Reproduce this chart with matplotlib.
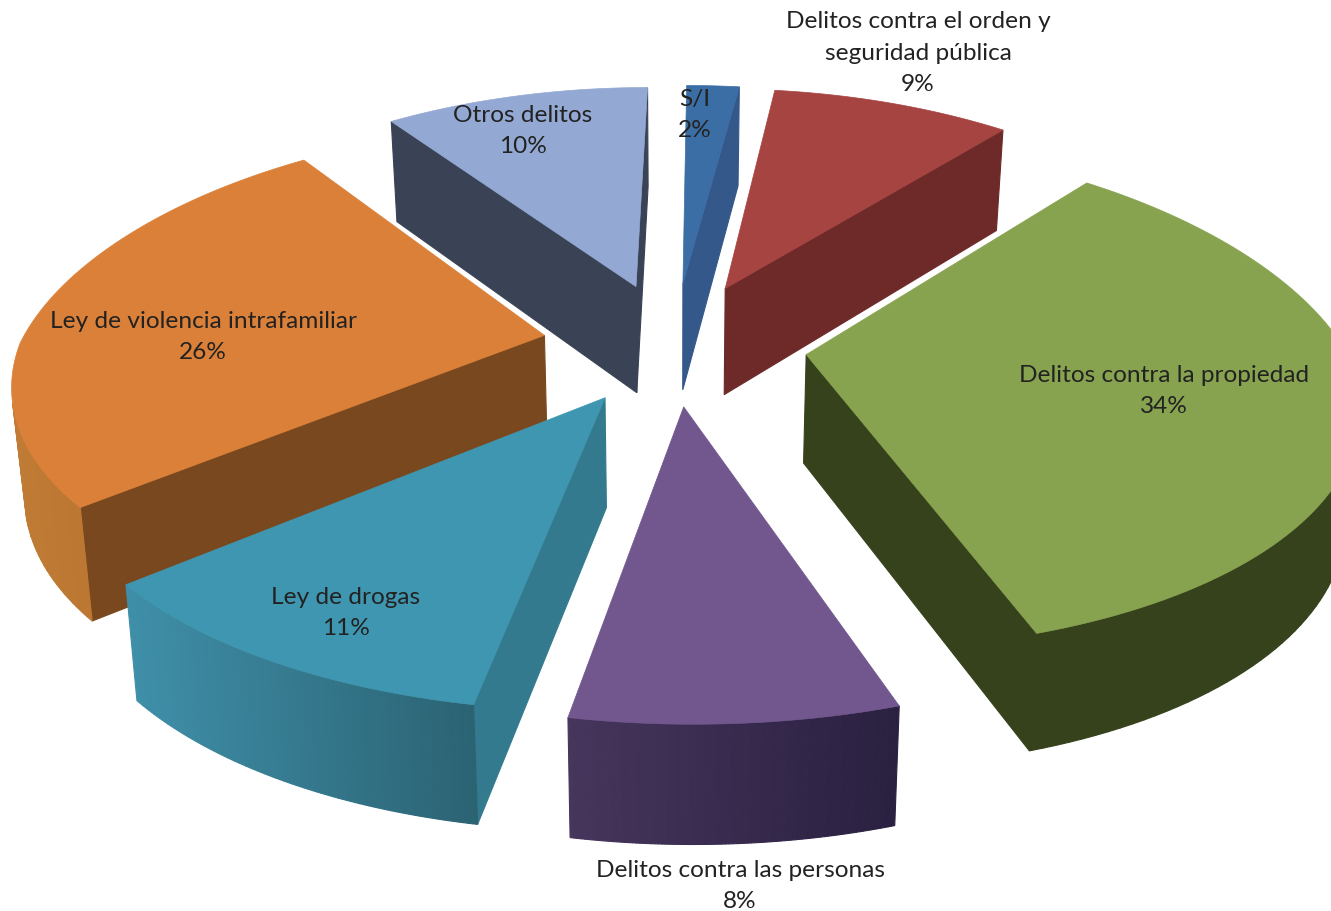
import numpy as np
import matplotlib
matplotlib.use('Agg')
import matplotlib.pyplot as plt
from matplotlib.colors import to_rgb

# datos
categorias = ['S/I', 'Delitos contra el orden y\nseguridad pública', 'Delitos contra la propiedad',
              'Delitos contra las personas', 'Ley de drogas', 'Ley de violencia intrafamiliar', 'Otros delitos']
valores = [2, 9, 34, 8, 11, 26, 10]

# estilo de cada sector: tapa, cara de corte, lateral exterior (izq, der)
col_tapa = ['#3b6ea5', '#a64442', '#88a34f', '#71578e', '#3f96b0', '#db8038', '#93a8d2']
col_corte = ['#35588a', '#6d2a29', '#36421c', '#3a2c4c', '#347a8e', '#7a481f', '#3a4256']
col_arco_izq = ['#2c5a8c', '#6d2a29', '#36421c', '#46355c', '#3f8fa9', '#c07c35', '#3a4256']
col_arco_der = ['#2c5a8c', '#6d2a29', '#36421c', '#2a2040', '#2b6373', '#ad6828', '#3a4256']

# posicion de las etiquetas en pixeles
pos_etiquetas = [(695, 115), (918, 53), (1164, 391), (740, 886), (346, 613), (203, 337), (523, 131)]

# parametros de la proyeccion
cx, cy = 675, 344
rx, ry = 530, 246
persp_x_atras = 0.21
persp_x_frente = 0.17
persp_y = 0.155
alto = 108
explode = 0.25
borde_dx = 0.012  # el borde exterior va un poco a la derecha del vertice


def proyectar(X, Y):
    sx = 1 / (1 - np.where(Y < 0, persp_x_atras, persp_x_frente) * Y)
    sy = 1 / (1 - persp_y * Y)
    return cx + rx * X * sx, cy + ry * Y * sy, sy


def area(px, py):
    return 0.5 * np.sum(px * np.roll(py, -1) - np.roll(px, -1) * py)


def mezcla(c1, c2, t):
    a, b = np.array(to_rgb(c1)), np.array(to_rgb(c2))
    return tuple(a + (b - a) * t)


fig = plt.figure(figsize=(13.31, 9.12), dpi=100)
ax = fig.add_axes([0, 0, 1, 1])
ax.set_xlim(0, 1331)
ax.set_ylim(912, 0)
ax.axis('off')

total = sum(valores)
acum = np.cumsum([0] + valores) / total * 2 * np.pi
sectores = []
for i in range(len(valores)):
    a0, a1 = acum[i], acum[i + 1]
    med = (a0 + a1) / 2
    ox, oy = explode * np.sin(med), -explode * np.cos(med)
    sectores.append((oy, i, a0, a1, ox))

# de atras hacia adelante
for oy, i, a0, a1, ox in sorted(sectores):
    t = np.linspace(a0, a1, 90)
    X = np.r_[ox, ox + borde_dx + np.sin(t)]
    Y = np.r_[oy, oy - np.cos(t)]
    px, py, s = proyectar(X, Y)
    qx = cx + (px - cx) * 0.98
    qy = py + alto * np.sqrt(s)
    n = len(px)
    signo = np.sign(area(px, py))
    xmin, xmax = px[1:].min(), px[1:].max()
    for j in range(n):
        k = (j + 1) % n
        cara_x = np.array([px[j], px[k], qx[k], qx[j]])
        cara_y = np.array([py[j], py[k], qy[k], qy[j]])
        # solo caras que miran al observador
        if np.sign(area(cara_x, cara_y)) == signo:
            continue
        if j == 0 or j == n - 1:
            c = col_corte[i]
        else:
            c = mezcla(col_arco_izq[i], col_arco_der[i], (px[j] - xmin) / (xmax - xmin))
        ax.fill(cara_x, cara_y, color=c, lw=0.8, zorder=2)
    ax.fill(px, py, color=col_tapa[i], lw=0.5, zorder=2)

for i, nombre in enumerate(categorias):
    ax.text(pos_etiquetas[i][0], pos_etiquetas[i][1], '%s\n%d%%' % (nombre, valores[i]),
            ha='center', va='center', fontsize=17.6, family='Lato', color='#222222',
            linespacing=1.6, zorder=5)

fig.savefig('out.png', dpi=100)
